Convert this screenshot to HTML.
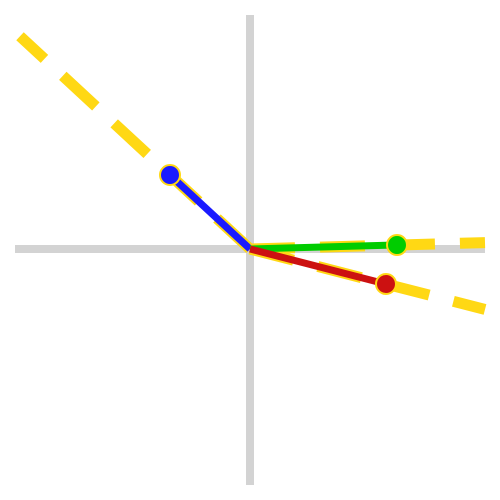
<!DOCTYPE html>
<html><head><style>body{margin:0;background:#fff}svg{display:block}</style></head>
<body>
<svg id="chart" width="500" height="500">
<line x1="250" y1="15" x2="250" y2="485" stroke="#d3d3d3" stroke-width="8"/>
<line x1="15" y1="249" x2="485" y2="249" stroke="#d3d3d3" stroke-width="8"/>
<g id="lines"></g><g id="vecs"></g>
</svg>
<script>
const names=['blue','green','red'];
const xs=[-0.80,1.47,1.36];
const ys=[0.74,0.04,-0.35];
const colors=['#1a1aff','#00cc00','#cc1111'];
const ox=250,oy=249,sc=100;
function px(v){return ox+v*sc;}
function py(v){return oy-v*sc;}
const NS='http://www.w3.org/2000/svg';
const L=document.getElementById('lines'),V=document.getElementById('vecs');
for(let i=0;i<xs.length;i++){
  const dx=xs[i],dy=ys[i];
  let t=Infinity;
  if(dx>0)t=Math.min(t,2.35/dx); if(dx<0)t=Math.min(t,-2.3/dx);
  if(dy>0)t=Math.min(t,2.13/dy); if(dy<0)t=Math.min(t,-2.36/dy);
  const d=document.createElementNS(NS,'line');
  d.setAttribute('x1',ox);d.setAttribute('y1',oy);
  d.setAttribute('x2',px(dx*t));d.setAttribute('y2',py(dy*t));
  d.setAttribute('stroke','#ffd814');d.setAttribute('stroke-width','11');
  d.setAttribute('stroke-dasharray','45 25');
  
  
  L.appendChild(d);
  const v=document.createElementNS(NS,'line');
  v.setAttribute('x1',ox);v.setAttribute('y1',oy);
  v.setAttribute('x2',px(dx));v.setAttribute('y2',py(dy));
  v.setAttribute('stroke',colors[i]);v.setAttribute('stroke-width','7');
  
  
  V.appendChild(v);
}
for(let i=0;i<xs.length;i++){
  const c=document.createElementNS(NS,'circle');
  c.setAttribute('cx',px(xs[i]));c.setAttribute('cy',py(ys[i]));c.setAttribute('r','10');
  c.setAttribute('fill',colors[i]);c.setAttribute('stroke','#ffd814');c.setAttribute('stroke-width','2');
  
  
  V.appendChild(c);
}
</script>
</body></html>
